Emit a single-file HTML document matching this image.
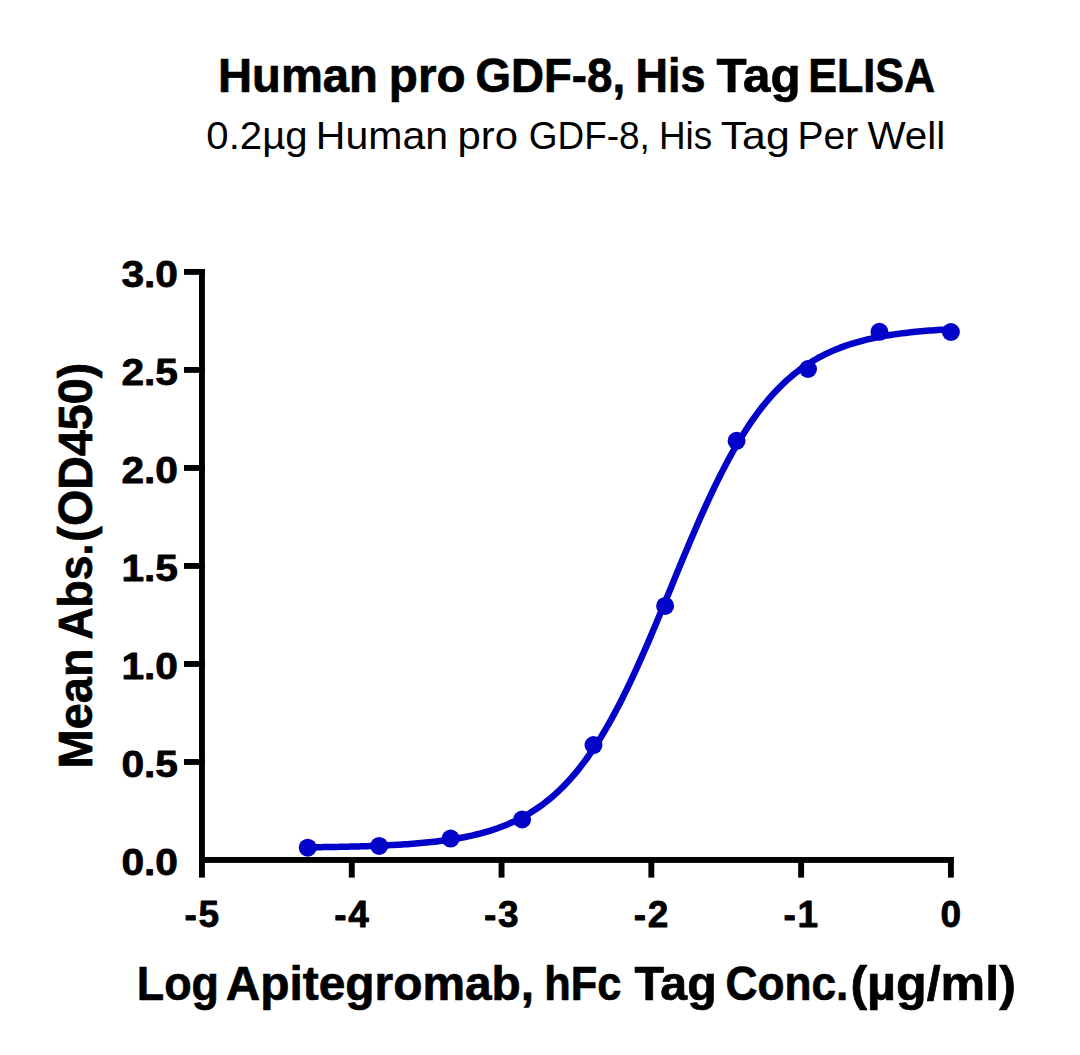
<!DOCTYPE html>
<html><head><meta charset="utf-8"><style>
html,body{margin:0;padding:0;background:#fff;width:1080px;height:1055px;overflow:hidden}
svg{display:block}
text{font-family:"Liberation Sans",sans-serif;fill:#000}
</style></head><body>
<svg width="1080" height="1055" viewBox="0 0 1080 1055">
<text transform="translate(218.03,91.65) scale(0.9891,1)" font-size="47.7" font-weight="bold" stroke="#000" stroke-width="0.7" stroke-linejoin="round">Human</text>
<text transform="translate(388.80,91.65) scale(0.9986,1)" font-size="47.7" font-weight="bold" stroke="#000" stroke-width="0.7" stroke-linejoin="round">pro</text>
<text transform="translate(475.38,91.65) scale(0.9579,1)" font-size="47.7" font-weight="bold" stroke="#000" stroke-width="0.7" stroke-linejoin="round">GDF-8,</text>
<text transform="translate(635.57,91.65) scale(0.9429,1)" font-size="47.7" font-weight="bold" stroke="#000" stroke-width="0.7" stroke-linejoin="round">His</text>
<text transform="translate(716.60,91.65) scale(1.0346,1)" font-size="47.7" font-weight="bold" stroke="#000" stroke-width="0.7" stroke-linejoin="round">Tag</text>
<text transform="translate(808.18,91.65) scale(0.9051,1)" font-size="47.7" font-weight="bold" stroke="#000" stroke-width="0.7" stroke-linejoin="round">ELISA</text>
<text transform="translate(206.34,149) scale(1.0309,1)" font-size="39" font-weight="normal">0.2µg</text>
<text transform="translate(315.84,149) scale(1.0525,1)" font-size="39" font-weight="normal">Human</text>
<text transform="translate(457.48,149) scale(1.0731,1)" font-size="39" font-weight="normal">pro</text>
<text transform="translate(528.81,149) scale(0.9467,1)" font-size="39" font-weight="normal">GDF-8,</text>
<text transform="translate(658.96,149) scale(0.9462,1)" font-size="39" font-weight="normal">His</text>
<text transform="translate(720.70,149) scale(1.0983,1)" font-size="39" font-weight="normal">Tag</text>
<text transform="translate(797.49,149) scale(1.0018,1)" font-size="39" font-weight="normal">Per</text>
<text transform="translate(867.40,149) scale(1.0356,1)" font-size="39" font-weight="normal">Well</text>
<g fill="#000">
<rect x="199" y="269.1" width="5.9" height="608.5"/>
<rect x="199" y="857" width="754.8" height="5.9"/>
<rect x="184" y="759.03" width="21" height="5.9"/>
<rect x="184" y="661.02" width="21" height="5.9"/>
<rect x="184" y="563.00" width="21" height="5.9"/>
<rect x="184" y="464.99" width="21" height="5.9"/>
<rect x="184" y="366.98" width="21" height="5.9"/>
<rect x="184" y="268.96" width="21" height="5.9"/>
<rect x="348.83" y="857" width="5.9" height="20.6"/>
<rect x="498.61" y="857" width="5.9" height="20.6"/>
<rect x="648.39" y="857" width="5.9" height="20.6"/>
<rect x="798.17" y="857" width="5.9" height="20.6"/>
<rect x="947.95" y="857" width="5.9" height="20.6"/>
</g>
<g font-size="37.0" font-weight="bold" stroke="#000" stroke-width="0.8" stroke-linejoin="round">
<text transform="translate(178.0,874.60) scale(1.1,1)" text-anchor="end">0.0</text>
<text transform="translate(178.0,776.59) scale(1.1,1)" text-anchor="end">0.5</text>
<text transform="translate(178.0,678.57) scale(1.1,1)" text-anchor="end">1.0</text>
<text transform="translate(178.0,580.55) scale(1.1,1)" text-anchor="end">1.5</text>
<text transform="translate(178.0,482.54) scale(1.1,1)" text-anchor="end">2.0</text>
<text transform="translate(178.0,384.53) scale(1.1,1)" text-anchor="end">2.5</text>
<text transform="translate(178.0,286.51) scale(1.1,1)" text-anchor="end">3.0</text>
<text x="201.70" y="926.60" text-anchor="middle"><tspan dy="0.4">-</tspan><tspan dy="-0.4" dx="1.6">5</tspan></text>
<text x="351.48" y="926.60" text-anchor="middle"><tspan dy="0.4">-</tspan><tspan dy="-0.4" dx="1.6">4</tspan></text>
<text x="501.26" y="926.60" text-anchor="middle"><tspan dy="0.4">-</tspan><tspan dy="-0.4" dx="1.6">3</tspan></text>
<text x="651.04" y="926.60" text-anchor="middle"><tspan dy="0.4">-</tspan><tspan dy="-0.4" dx="1.6">2</tspan></text>
<text x="800.82" y="926.60" text-anchor="middle"><tspan dy="0.4">-</tspan><tspan dy="-0.4" dx="1.6">1</tspan></text>
<text x="950.90" y="926.60" text-anchor="middle">0</text>
</g>
<text transform="translate(92.05,768.45) rotate(-90) scale(0.9845,1)" font-size="47.7" font-weight="bold" stroke="#000" stroke-width="0.7" stroke-linejoin="round">Mean</text>
<text transform="translate(92.05,639.53) rotate(-90) scale(0.9313,1)" font-size="47.7" font-weight="bold" stroke="#000" stroke-width="0.7" stroke-linejoin="round">Abs.</text>
<text transform="translate(92.05,541.66) rotate(-90) scale(0.9788,1)" font-size="47.7" font-weight="bold" stroke="#000" stroke-width="0.7" stroke-linejoin="round">(OD450)</text>
<text transform="translate(136.78,1000.05) scale(0.9402,1)" font-size="47.7" font-weight="bold" stroke="#000" stroke-width="0.7" stroke-linejoin="round">Log</text>
<text transform="translate(225.70,1000.05) scale(1.0033,1)" font-size="47.7" font-weight="bold" stroke="#000" stroke-width="0.7" stroke-linejoin="round">Apitegromab,</text>
<text transform="translate(544.27,1000.05) scale(0.9086,1)" font-size="47.7" font-weight="bold" stroke="#000" stroke-width="0.7" stroke-linejoin="round">hFc</text>
<text transform="translate(634.40,1000.05) scale(1.0141,1)" font-size="47.7" font-weight="bold" stroke="#000" stroke-width="0.7" stroke-linejoin="round">Tag</text>
<text transform="translate(725.55,1000.05) scale(0.9273,1)" font-size="47.7" font-weight="bold" stroke="#000" stroke-width="0.7" stroke-linejoin="round">Conc.</text>
<text transform="translate(850.40,1000.05) scale(1.0523,1)" font-size="47.7" font-weight="bold" stroke="#000" stroke-width="0.7" stroke-linejoin="round">(µg/ml)</text>
<polyline points="307.74,847.32 310.44,847.29 313.13,847.25 315.82,847.22 318.51,847.19 321.20,847.15 323.89,847.11 326.58,847.07 329.27,847.02 331.96,846.98 334.65,846.93 337.35,846.88 340.04,846.83 342.73,846.77 345.42,846.72 348.11,846.65 350.80,846.59 353.49,846.52 356.18,846.45 358.87,846.38 361.57,846.30 364.26,846.22 366.95,846.13 369.64,846.04 372.33,845.94 375.02,845.84 377.71,845.73 380.40,845.62 383.09,845.51 385.78,845.38 388.48,845.25 391.17,845.12 393.86,844.97 396.55,844.82 399.24,844.67 401.93,844.50 404.62,844.33 407.31,844.14 410.00,843.95 412.69,843.75 415.39,843.54 418.08,843.31 420.77,843.08 423.46,842.83 426.15,842.57 428.84,842.30 431.53,842.02 434.22,841.72 436.91,841.40 439.60,841.07 442.30,840.72 444.99,840.36 447.68,839.98 450.37,839.57 453.06,839.15 455.75,838.71 458.44,838.24 461.13,837.76 463.82,837.24 466.52,836.71 469.21,836.14 471.90,835.55 474.59,834.93 477.28,834.28 479.97,833.60 482.66,832.88 485.35,832.13 488.04,831.35 490.73,830.52 493.43,829.66 496.12,828.75 498.81,827.80 501.50,826.81 504.19,825.77 506.88,824.68 509.57,823.54 512.26,822.34 514.95,821.10 517.64,819.79 520.34,818.42 523.03,816.99 525.72,815.50 528.41,813.94 531.10,812.31 533.79,810.61 536.48,808.83 539.17,806.98 541.86,805.04 544.56,803.02 547.25,800.92 549.94,798.73 552.63,796.44 555.32,794.07 558.01,791.59 560.70,789.02 563.39,786.35 566.08,783.57 568.77,780.68 571.47,777.68 574.16,774.57 576.85,771.35 579.54,768.01 582.23,764.56 584.92,760.98 587.61,757.28 590.30,753.46 592.99,749.51 595.68,745.44 598.38,741.24 601.07,736.91 603.76,732.46 606.45,727.89 609.14,723.18 611.83,718.35 614.52,713.40 617.21,708.33 619.90,703.14 622.59,697.82 625.29,692.40 627.98,686.86 630.67,681.22 633.36,675.47 636.05,669.63 638.74,663.69 641.43,657.66 644.12,651.55 646.81,645.37 649.51,639.11 652.20,632.79 654.89,626.42 657.58,620.00 660.27,613.54 662.96,607.04 665.65,600.52 668.34,593.98 671.03,587.44 673.72,580.89 676.42,574.35 679.11,567.83 681.80,561.33 684.49,554.86 687.18,548.44 689.87,542.06 692.56,535.74 695.25,529.48 697.94,523.28 700.63,517.17 703.33,511.14 706.02,505.19 708.71,499.34 711.40,493.58 714.09,487.93 716.78,482.38 719.47,476.95 722.16,471.63 724.85,466.43 727.54,461.34 730.24,456.38 732.93,451.54 735.62,446.83 738.31,442.24 741.00,437.78 743.69,433.45 746.38,429.24 749.07,425.15 751.76,421.20 754.46,417.36 757.15,413.66 759.84,410.07 762.53,406.60 765.22,403.25 767.91,400.02 770.60,396.90 773.29,393.90 775.98,391.00 778.67,388.21 781.37,385.53 784.06,382.95 786.75,380.47 789.44,378.08 792.13,375.79 794.82,373.59 797.51,371.48 800.20,369.46 802.89,367.52 805.58,365.65 808.28,363.87 810.97,362.16 813.66,360.53 816.35,358.96 819.04,357.46 821.73,356.03 824.42,354.66 827.11,353.35 829.80,352.09 832.49,350.89 835.19,349.75 837.88,348.66 840.57,347.61 843.26,346.61 845.95,345.66 848.64,344.75 851.33,343.89 854.02,343.06 856.71,342.27 859.41,341.51 862.10,340.80 864.79,340.11 867.48,339.46 870.17,338.83 872.86,338.24 875.55,337.67 878.24,337.14 880.93,336.62 883.62,336.13 886.32,335.66 889.01,335.22 891.70,334.80 894.39,334.39 897.08,334.01 899.77,333.64 902.46,333.29 905.15,332.96 907.84,332.65 910.53,332.34 913.23,332.06 915.92,331.79 918.61,331.53 921.30,331.28 923.99,331.04 926.68,330.82 929.37,330.61 932.06,330.40 934.75,330.21 937.44,330.03 940.14,329.85 942.83,329.68 945.52,329.53 948.21,329.38 950.90,329.23" fill="none" stroke="#0202C8" stroke-width="6.5" stroke-linejoin="round"/>
<g fill="#0202C8">
<circle cx="307.74" cy="847.70" r="9"/>
<circle cx="379.19" cy="845.90" r="9"/>
<circle cx="450.63" cy="838.60" r="9"/>
<circle cx="522.08" cy="819.50" r="9"/>
<circle cx="593.52" cy="745.10" r="9"/>
<circle cx="665.12" cy="605.90" r="9"/>
<circle cx="736.56" cy="440.80" r="9"/>
<circle cx="808.01" cy="369.00" r="9"/>
<circle cx="879.45" cy="331.80" r="9"/>
<circle cx="950.90" cy="332.00" r="9"/>
</g>
</svg>
</body></html>
